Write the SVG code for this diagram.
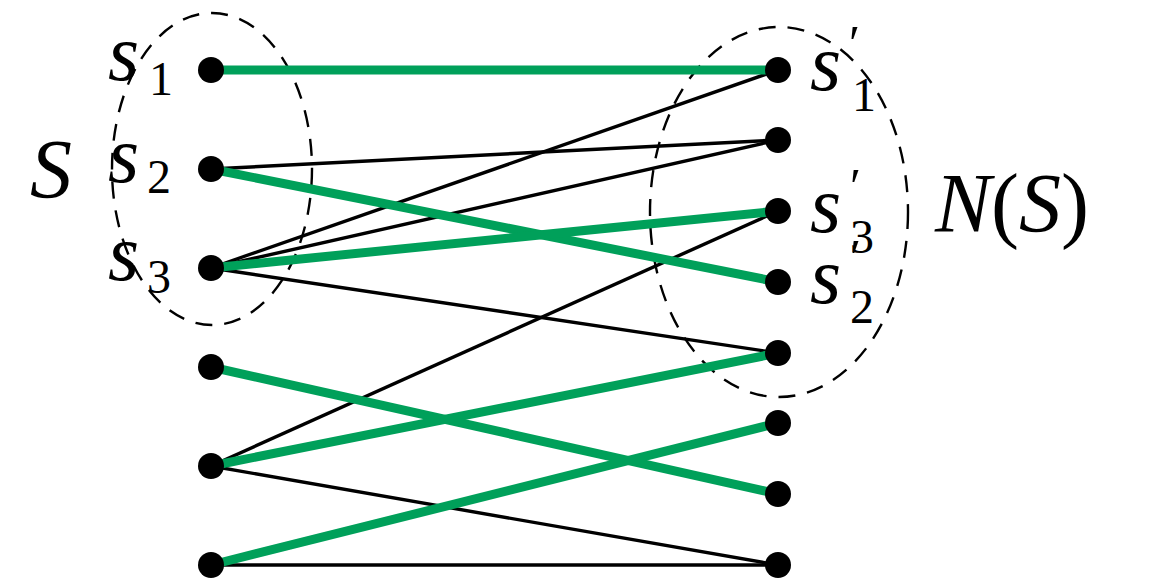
<svg xmlns="http://www.w3.org/2000/svg" width="1159" height="580" viewBox="0 0 1159 580">
<style>
.m{stroke:#00a05a;stroke-width:9;fill:none}
.e{stroke:#000;stroke-width:3.4;fill:none}
.set{fill:none;stroke:#000;stroke-width:2.4;stroke-dasharray:17 12}
</style>
<rect width="1159" height="580" fill="#fff"/>
<g id="sets">
<ellipse class="set" cx="212" cy="169" rx="100" ry="156"/>
<ellipse class="set" cx="779" cy="212" rx="129" ry="185"/>
</g>
<g id="connectors">
<line class="e" x1="211" y1="169" x2="778" y2="140"/>
<line class="e" x1="211" y1="268" x2="778" y2="70"/>
<line class="e" x1="211" y1="268" x2="778" y2="140"/>
<line class="e" x1="211" y1="268" x2="778" y2="353"/>
<line class="e" x1="211" y1="466" x2="778" y2="211"/>
<line class="e" x1="211" y1="466" x2="778" y2="565"/>
<line class="e" x1="211" y1="565" x2="778" y2="565"/>
<line class="m" x1="211" y1="70" x2="778" y2="70"/>
<line class="m" x1="211" y1="169" x2="778" y2="282"/>
<line class="m" x1="211" y1="268" x2="778" y2="211"/>
<line class="m" x1="211" y1="367" x2="778" y2="494"/>
<line class="m" x1="211" y1="466" x2="778" y2="353"/>
<line class="m" x1="211" y1="565" x2="778" y2="423"/>
</g>
<g font-family="Liberation Serif, DejaVu Serif, serif" fill="#000">
<g id="L1"><circle cx="211" cy="70" r="13"/><text x="108" y="80" font-size="80" font-style="italic">s</text><text x="149" y="95" font-size="48">1</text></g>
<g id="L2"><circle cx="211" cy="169" r="13"/><text x="108" y="182" font-size="80" font-style="italic">s</text><text x="147" y="193" font-size="48">2</text></g>
<g id="L3"><circle cx="211" cy="268" r="13"/><text x="108" y="280" font-size="80" font-style="italic">s</text><text x="147" y="293" font-size="48">3</text></g>
<g id="L4"><circle cx="211" cy="367" r="13"/></g>
<g id="L5"><circle cx="211" cy="466" r="13"/></g>
<g id="L6"><circle cx="211" cy="565" r="13"/></g>
<g id="R1"><circle cx="778" cy="70" r="13"/><text x="810" y="90" font-size="80" font-style="italic">s</text><text x="849" y="60" font-size="50">′</text><text x="852" y="111" font-size="48">1</text></g>
<g id="R2"><circle cx="778" cy="140" r="13"/></g>
<g id="R3"><circle cx="778" cy="211" r="13"/><text x="810" y="232" font-size="80" font-style="italic">s</text><text x="850" y="203" font-size="50">′</text><text x="850" y="253" font-size="48">3</text></g>
<g id="R4"><circle cx="778" cy="282" r="13"/><text x="810" y="303" font-size="80" font-style="italic">s</text><text x="850" y="274" font-size="50">′</text><text x="850" y="323" font-size="48">2</text></g>
<g id="R5"><circle cx="778" cy="353" r="13"/></g>
<g id="R6"><circle cx="778" cy="423" r="13"/></g>
<g id="R7"><circle cx="778" cy="494" r="13"/></g>
<g id="R8"><circle cx="778" cy="565" r="13"/></g>
<g id="labelS"><text x="30" y="198" font-size="84" font-style="italic">S</text></g>
<g id="labelNS"><text x="935" y="232" font-size="84"><tspan font-style="italic">N</tspan><tspan>(</tspan><tspan font-style="italic">S</tspan><tspan>)</tspan></text></g>
</g>
</svg>
